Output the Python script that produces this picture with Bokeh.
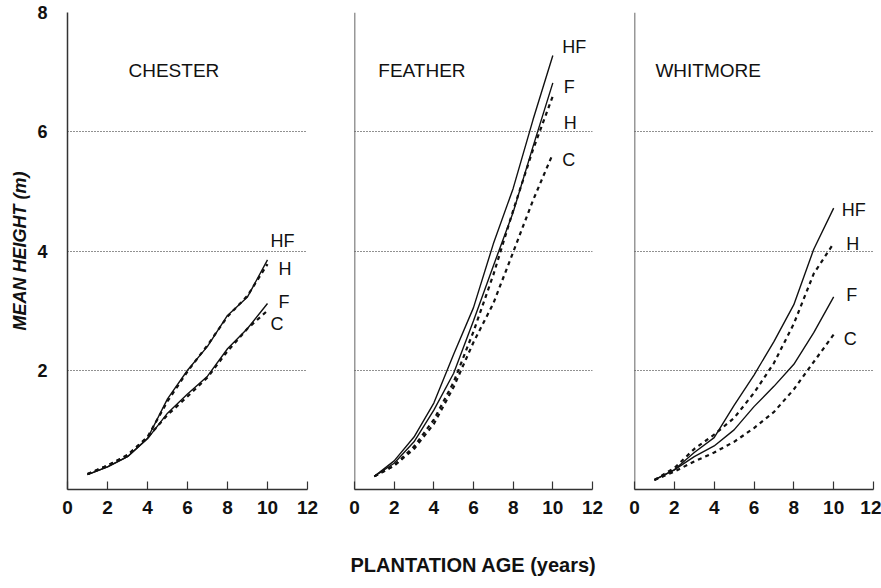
from bokeh.plotting import figure
from bokeh.layouts import row
from bokeh.models import FixedTicker, Label, Span
from bokeh.embed import file_html
from bokeh.resources import INLINE

# ---------------- data ----------------
ages = [1, 2, 3, 4, 5, 6, 7, 8, 9, 10]
sites = ["CHESTER", "FEATHER", "WHITMORE"]
treatments = ["HF", "H", "F", "C"]

chester_hf = [0.25, 0.38, 0.55, 0.86, 1.52, 2.00, 2.40, 2.92, 3.23, 3.85]
chester_h = [0.26, 0.40, 0.58, 0.88, 1.48, 1.98, 2.42, 2.90, 3.25, 3.78]
chester_f = [0.25, 0.38, 0.55, 0.85, 1.28, 1.60, 1.90, 2.36, 2.70, 3.12]
chester_c = [0.26, 0.40, 0.57, 0.87, 1.25, 1.56, 1.88, 2.32, 2.70, 3.00]

feather_hf = [0.22, 0.48, 0.88, 1.45, 2.27, 3.05, 4.12, 5.05, 6.20, 7.28]
feather_h = [0.22, 0.40, 0.72, 1.17, 1.80, 2.65, 3.60, 4.68, 5.70, 6.60]
feather_f = [0.22, 0.44, 0.80, 1.33, 1.95, 2.83, 3.75, 4.65, 5.75, 6.82]
feather_c = [0.22, 0.40, 0.68, 1.10, 1.72, 2.47, 3.12, 3.98, 4.85, 5.63]

whitmore_hf = [0.16, 0.33, 0.62, 0.87, 1.41, 1.92, 2.48, 3.10, 4.03, 4.72]
whitmore_h = [0.16, 0.36, 0.68, 0.92, 1.20, 1.62, 2.12, 2.78, 3.62, 4.13]
whitmore_f = [0.16, 0.33, 0.55, 0.73, 1.00, 1.39, 1.73, 2.10, 2.63, 3.23]
whitmore_c = [0.16, 0.30, 0.47, 0.62, 0.80, 1.03, 1.30, 1.68, 2.14, 2.60]

x_ticks = [0, 2, 4, 6, 8, 10, 12]
y_ticks = [2, 4, 6, 8]
y_title = "MEAN HEIGHT (m)"
x_title = "PLANTATION AGE (years)"

series = {
    "CHESTER": {"HF": chester_hf, "H": chester_h, "F": chester_f, "C": chester_c},
    "FEATHER": {"HF": feather_hf, "H": feather_h, "F": feather_f, "C": feather_c},
    "WHITMORE": {"HF": whitmore_hf, "H": whitmore_h, "F": whitmore_f, "C": whitmore_c},
}

# ---------------- annotation placement (data coords) ----------------
label_pos = {
    "CHESTER": {"HF": (10.15, 4.16), "H": (10.55, 3.70), "F": (10.55, 3.15), "C": (10.15, 2.78)},
    "FEATHER": {"HF": (10.47, 7.42), "F": (10.55, 6.75), "H": (10.55, 6.14), "C": (10.47, 5.52)},
    "WHITMORE": {"HF": (10.40, 4.68), "H": (10.63, 4.12), "F": (10.63, 3.26), "C": (10.50, 2.53)},
}
site_title_x = {"CHESTER": 3.05, "FEATHER": 1.2, "WHITMORE": 1.05}
site_title_y = 7.03

line_style = {
    "HF": dict(line_dash="solid", line_width=1.4),
    "F": dict(line_dash="solid", line_width=1.4),
    "H": dict(line_dash="4 4", line_width=2.2),
    "C": dict(line_dash="4 4", line_width=2.2),
}

FONT = "Liberation Sans"
H = 584
TOP = 12
BOTTOM = 95
panel_geom = [
    # (width, min_border_left, min_border_right)
    (321, 67, 14),
    (285, 33, 14),
    (275, 28, 8),
]

figs = []
for i, site in enumerate(sites):
    w, bl, br = panel_geom[i]
    p = figure(width=w, height=H, x_range=(0, 12), y_range=(0, 8),
               output_backend="svg", toolbar_location=None,
               min_border_left=bl, min_border_right=br,
               min_border_top=TOP, min_border_bottom=BOTTOM)
    p.outline_line_color = None
    p.background_fill_color = "white"
    p.border_fill_color = "white"

    # grid (dotted)
    p.ygrid.ticker = FixedTicker(ticks=y_ticks)
    p.ygrid.grid_line_color = "#222222"
    p.ygrid.grid_line_dash = "1 2"
    p.ygrid.grid_line_width = 1
    p.xgrid.ticker = FixedTicker(ticks=[12])
    p.xgrid.grid_line_color = "#444444"
    p.xgrid.grid_line_dash = "1 2"
    p.xgrid.grid_line_width = 1

    # x axis
    xa = p.xaxis[0]
    xa.ticker = FixedTicker(ticks=x_ticks)
    xa.major_tick_in = 8
    xa.major_tick_out = 0
    xa.minor_tick_line_color = None
    xa.axis_line_color = "#333333"
    xa.axis_line_width = 1.5
    xa.major_tick_line_color = "#333333"
    xa.major_tick_line_width = 1.2
    xa.major_label_text_font = FONT
    xa.major_label_text_font_style = "bold"
    xa.major_label_text_font_size = "19px"
    xa.major_label_text_color = "#111111"
    xa.major_label_standoff = 11

    if i == 0:
        ya = p.yaxis[0]
        ya.ticker = FixedTicker(ticks=y_ticks)
        ya.major_tick_in = 0
        ya.major_tick_out = 0
        ya.minor_tick_line_color = None
        ya.axis_line_color = "#333333"
        ya.axis_line_width = 1.5
        ya.major_label_text_font = FONT
        ya.major_label_text_font_style = "bold"
        ya.major_label_text_font_size = "18px"
        ya.major_label_text_color = "#111111"
        ya.major_label_standoff = 20
        ya.axis_label = y_title
        ya.axis_label_text_font = FONT
        ya.axis_label_text_font_style = "bold italic"
        ya.axis_label_text_font_size = "18px"
        ya.axis_label_text_color = "#111111"
        ya.axis_label_standoff = 4
    else:
        p.yaxis.visible = False
        p.add_layout(Span(location=0, dimension="height",
                          line_color="#333333", line_width=1.5))
    if i == 1:
        xa.axis_label = x_title
        xa.axis_label_text_font = FONT
        xa.axis_label_text_font_style = "bold"
        xa.axis_label_text_font_size = "20px"
        xa.axis_label_text_color = "#111111"
        xa.axis_label_standoff = 37

    # curves
    for t in treatments:
        p.line(ages, series[site][t], line_color="#111111", **line_style[t])

    # curve labels
    for t in treatments:
        lx, ly = label_pos[site][t]
        p.add_layout(Label(x=lx, y=ly, text=t, text_font=FONT,
                           text_font_size="18px", text_color="#111111",
                           text_align="left", text_baseline="middle"))

    # panel name
    p.add_layout(Label(x=site_title_x[site], y=site_title_y, text=site,
                       text_font=FONT, text_font_size="19px",
                       text_color="#111111", text_align="left",
                       text_baseline="middle"))
    figs.append(p)

layout = row(*figs, spacing=0)
open("out.html", "w").write(file_html(layout, INLINE))
